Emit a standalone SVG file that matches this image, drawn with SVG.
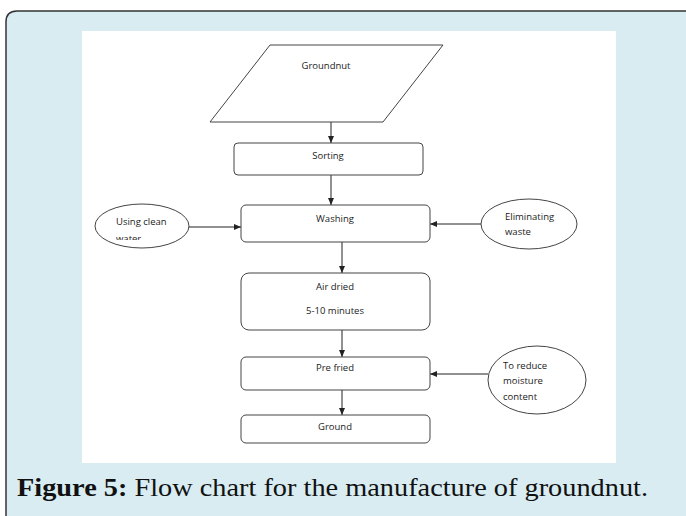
<svg xmlns="http://www.w3.org/2000/svg" width="686" height="516" viewBox="0 0 686 516">
<style>
.box{fill:#fff;stroke:#444;stroke-width:1}
.ln{stroke:#222;stroke-width:1;fill:none}
.t{font-family:"Open Sans","Liberation Sans",sans-serif;font-size:9.5px;fill:#222}
.tc{text-anchor:middle}
.cap{font-family:"Liberation Serif",serif;font-size:26px;fill:#111}
</style>
<defs>
<marker id="ah" markerWidth="8" markerHeight="8" refX="7" refY="4" orient="auto" markerUnits="userSpaceOnUse">
<path d="M0,1 L7,4 L0,7 Z" fill="#222"/>
</marker>
<clipPath id="clipw"><rect x="100" y="200" width="80" height="40"/></clipPath>
</defs>
<rect x="0" y="0" width="686" height="516" fill="#fff"/>
<path d="M6,516 L6,22 Q6,11 17,11 L690,11 L690,520" fill="#d8ecf1" stroke="#333" stroke-width="1.5"/>
<rect x="82" y="31" width="534" height="432" fill="#fff"/>
<g id="connectors">
<line class="ln" x1="331" y1="122" x2="331" y2="143" marker-end="url(#ah)"/>
<line class="ln" x1="331" y1="175" x2="331" y2="205" marker-end="url(#ah)"/>
<line class="ln" x1="189" y1="227" x2="241" y2="227" marker-end="url(#ah)"/>
<line class="ln" x1="481" y1="224" x2="430" y2="224" marker-end="url(#ah)"/>
<line class="ln" x1="342" y1="242" x2="342" y2="273" marker-end="url(#ah)"/>
<line class="ln" x1="342" y1="330" x2="342" y2="357" marker-end="url(#ah)"/>
<line class="ln" x1="342" y1="390" x2="342" y2="415" marker-end="url(#ah)"/>
<line class="ln" x1="488" y1="374" x2="430" y2="374" marker-end="url(#ah)"/>
</g>
<g id="groundnut">
<polygon class="box" points="270,45 443,45 383,122 210,122"/>
<text class="t tc" x="326" y="69">Groundnut</text>
</g>
<g id="sorting">
<rect class="box" x="234" y="143" width="189" height="32" rx="4"/>
<text class="t tc" x="328" y="159">Sorting</text>
</g>
<g id="washing">
<rect class="box" x="241" y="205" width="189" height="37" rx="5"/>
<text class="t tc" x="335" y="222">Washing</text>
</g>
<g id="clean-water">
<ellipse class="box" cx="142" cy="226" rx="47" ry="22"/>
<g clip-path="url(#clipw)">
<text class="t" x="116" y="225">Using clean</text>
<text class="t" x="116" y="242">water</text>
</g>
</g>
<g id="eliminating-waste">
<ellipse class="box" cx="529" cy="224" rx="48" ry="25"/>
<text class="t" x="505" y="220">Eliminating</text>
<text class="t" x="505" y="235">waste</text>
</g>
<g id="air-dried">
<rect class="box" x="241" y="273" width="189" height="57" rx="8"/>
<text class="t tc" x="335" y="290">Air dried</text>
<text class="t tc" x="335" y="314">5-10 minutes</text>
</g>
<g id="pre-fried">
<rect class="box" x="241" y="357" width="189" height="33" rx="5"/>
<text class="t tc" x="335" y="371">Pre fried</text>
</g>
<g id="reduce-moisture">
<ellipse class="box" cx="537" cy="380" rx="49" ry="34"/>
<text class="t" x="503" y="369">To reduce</text>
<text class="t" x="503" y="384">moisture</text>
<text class="t" x="503" y="400">content</text>
</g>
<g id="ground">
<rect class="box" x="241" y="415" width="189" height="28" rx="5"/>
<text class="t tc" x="335" y="430">Ground</text>
</g>
<text class="cap" x="17" y="496" textLength="631" lengthAdjust="spacingAndGlyphs"><tspan font-weight="bold">Figure 5:</tspan> Flow chart for the manufacture of groundnut.</text>
</svg>
